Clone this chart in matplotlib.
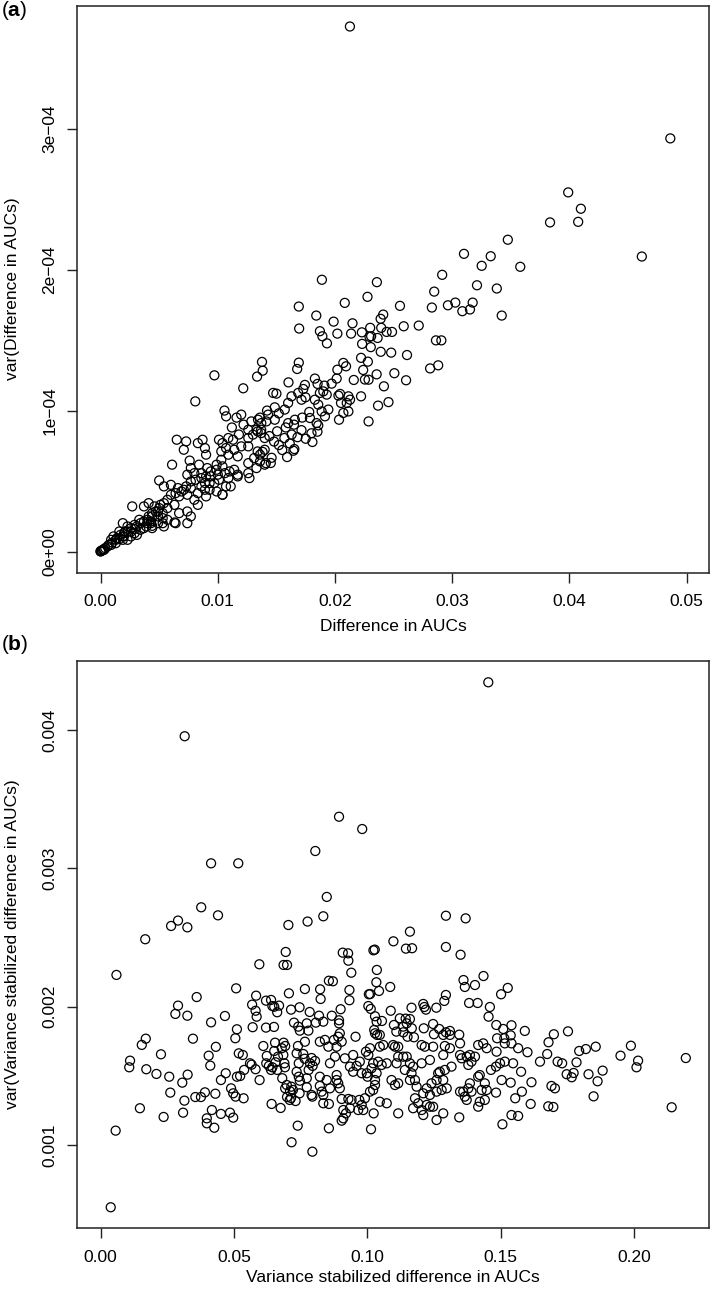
import numpy as np
import matplotlib
matplotlib.use("Agg")
import matplotlib.pyplot as plt

plt.rcParams["font.family"] = ["Liberation Sans", "DejaVu Sans"]
plt.rcParams["mathtext.fontset"] = "custom"
plt.rcParams["mathtext.rm"] = "Liberation Sans"
plt.rcParams["mathtext.bf"] = "Liberation Sans:bold"

# ============================================================
# Data
# ============================================================
# panel (a): (difference in AUCs, variance in units of 1e-4)
auc_pts = [
    (0.02127, 3.725),
    (0.0486, 2.931), (0.03989, 2.548), (0.04097, 2.432), (0.04074, 2.339), (0.03834, 2.335),
    (0.04617, 2.093), (0.03474, 2.212), (0.031, 2.112), (0.03328, 2.095), (0.03251, 2.027),
    (0.0358, 2.02),
    (0.02914, 1.963), (0.03211, 1.889), (0.0338, 1.866), (0.02357, 1.911), (0.02846, 1.844),
    (0.02554, 1.743), (0.02826, 1.731), (0.02963, 1.747), (0.03026, 1.766), (0.03174, 1.766),
    (0.03086, 1.705), (0.03151, 1.717), (0.03422, 1.674), (0.02411, 1.681), (0.02389, 1.651),
    (0.02394, 1.587), (0.0244, 1.558), (0.02486, 1.558), (0.02586, 1.598), (0.02714, 1.603),
    (0.02308, 1.527),
    (0.01888, 1.928), (0.02277, 1.807), (0.02083, 1.764), (0.01691, 1.738), (0.0184, 1.674),
    (0.01988, 1.631), (0.02149, 1.619), (0.01694, 1.582), (0.01871, 1.563), (0.01892, 1.527),
    (0.01931, 1.477), (0.0202, 1.546), (0.02137, 1.546), (0.02229, 1.555), (0.023, 1.587),
    (0.02231, 1.473), (0.02294, 1.523), (0.01377, 1.345), (0.01383, 1.283), (0.01335, 1.241),
    (0.00971, 1.25), (0.01217, 1.158), (0.00808, 1.065), (0.01691, 1.34), (0.01677, 1.295),
    (0.02071, 1.338), (0.02094, 1.314), (0.0202, 1.29), (0.02014, 1.227), (0.0216, 1.217),
    (0.0224, 1.288), (0.0228, 1.347), (0.02222, 1.374), (0.02286, 1.219), (0.01603, 1.2),
    (0.01743, 1.182), (0.01729, 1.153), (0.01828, 1.227), (0.01851, 1.189), (0.01909, 1.177),
    (0.01971, 1.191), (0.02043, 1.118), (0.02114, 1.101), (0.02222, 1.101),
    (0.01472, 1.125), (0.015, 1.12), (0.01486, 1.023), (0.01571, 1.007), (0.016, 1.054),
    (0.01629, 1.101), (0.01686, 1.125), (0.01714, 1.077), (0.01748, 1.094), (0.01828, 1.077),
    (0.01871, 1.125), (0.019, 1.136), (0.01929, 1.113), (0.01857, 1.042), (0.01886, 0.994),
    (0.01914, 0.959), (0.01943, 1.007), (0.02029, 1.106), (0.02051, 1.054), (0.021, 1.054),
    (0.02071, 0.983), (0.02128, 1.077), (0.02114, 0.994), (0.02034, 0.935), (0.02286, 0.923),
    (0.01057, 1.0), (0.01071, 0.959), (0.012, 0.971), (0.01286, 0.923), (0.01343, 0.935),
    (0.01371, 0.911), (0.01414, 0.923), (0.01429, 0.971), (0.01486, 0.935), (0.016, 0.911),
    (0.01657, 0.935), (0.01786, 0.947), (0.01843, 0.911),
    (0.0126, 0.864), (0.0134, 0.852), (0.0137, 0.864), (0.0133, 0.864), (0.0137, 0.84),
    (0.014, 0.805), (0.013, 0.829), (0.0126, 0.805),
    (0.0136, 0.95), (0.0142, 1.0), (0.0152, 0.98), (0.0158, 0.88), (0.0165, 0.9),
    (0.0172, 0.95), (0.0178, 0.99), (0.0163, 0.83), (0.0155, 0.72), (0.0148, 0.78),
    (0.0175, 0.8), (0.0185, 0.85), (0.0118, 0.83), (0.0122, 0.9), (0.0112, 0.88),
    (0.0116, 0.95),
    (0.0065, 0.793), (0.0073, 0.781), (0.0071, 0.722), (0.0083, 0.769), (0.0087, 0.793),
    (0.0089, 0.734), (0.009, 0.687), (0.0101, 0.793), (0.0104, 0.769), (0.0109, 0.805),
    (0.0113, 0.793), (0.0107, 0.734), (0.0103, 0.71), (0.0109, 0.687), (0.0114, 0.722),
    (0.012, 0.746), (0.0126, 0.746), (0.0117, 0.675), (0.0126, 0.627), (0.0131, 0.663),
    (0.0134, 0.71), (0.014, 0.722), (0.0136, 0.639), (0.0141, 0.627), (0.0133, 0.592),
    (0.014, 0.616), (0.0136, 0.687),
    (0.0061, 0.616), (0.0076, 0.645), (0.0077, 0.592), (0.0084, 0.616), (0.0074, 0.545),
    (0.008, 0.556), (0.0086, 0.556), (0.0091, 0.592), (0.0094, 0.533), (0.0089, 0.486),
    (0.0099, 0.616), (0.0103, 0.651), (0.0104, 0.604), (0.01, 0.545), (0.0106, 0.556),
    (0.011, 0.568), (0.0109, 0.521), (0.0114, 0.58), (0.0117, 0.545), (0.0107, 0.462),
    (0.0104, 0.403), (0.0111, 0.462), (0.0117, 0.533), (0.0126, 0.556), (0.0127, 0.521),
    (0.005, 0.504), (0.0054, 0.462), (0.006, 0.473), (0.0066, 0.45), (0.0071, 0.438),
    (0.0077, 0.45), (0.0083, 0.414), (0.0074, 0.403), (0.0067, 0.391), (0.008, 0.367),
    (0.0086, 0.462), (0.0093, 0.438), (0.009, 0.391), (0.0099, 0.426), (0.0104, 0.403),
    (0.0083, 0.331),
    (0.0027, 0.32), (0.0037, 0.32), (0.0041, 0.343), (0.0046, 0.32), (0.0049, 0.284),
    (0.0053, 0.272), (0.0057, 0.308), (0.0063, 0.331), (0.0067, 0.272), (0.0057, 0.225),
    (0.0064, 0.201), (0.0074, 0.284), (0.0074, 0.201), (0.0077, 0.249), (0.0053, 0.201),
    (0.0044, 0.249),
    (0.0019, 0.201), (0.0023, 0.178), (0.0029, 0.189), (0.0034, 0.154), (0.0039, 0.178),
    (0.0043, 0.201), (0.0049, 0.201), (0.004, 0.225), (0.0033, 0.225), (0.0026, 0.142),
    (0.0031, 0.118), (0.0044, 0.166), (0.0054, 0.178), (0.0063, 0.206), (0.0044, 0.182),
    (0.0009, 0.083), (0.0011, 0.107), (0.0014, 0.095), (0.0017, 0.118), (0.002, 0.107),
    (0.0021, 0.142), (0.0009, 0.047), (0.0004, 0.024), (0.0006, 0.036), (0.0003, 0.012),
    (0.0013, 0.059), (0.0023, 0.083), (0.0026, 0.107), (0.0016, 0.142),
    (0.0, 0.0), (0.0001, 0.007), (0.0003, 0.017), (0.0001, 0.005), (0.0002, 0.012), (0.0, 0.002),
    (0.0007, 0.047), (0.001, 0.064), (0.0013, 0.083), (0.0016, 0.088), (0.0019, 0.107),
    (0.002, 0.13), (0.0023, 0.142), (0.0026, 0.166), (0.0029, 0.159), (0.0031, 0.178),
    (0.0034, 0.201), (0.0037, 0.213), (0.004, 0.201), (0.0041, 0.249), (0.0044, 0.272),
    (0.0047, 0.284), (0.005, 0.308), (0.0051, 0.331), (0.0054, 0.343), (0.0057, 0.367),
    (0.006, 0.402), (0.0064, 0.414), (0.0069, 0.426), (0.0073, 0.462), (0.0077, 0.497),
    (0.0081, 0.509), (0.0086, 0.521), (0.009, 0.533), (0.0094, 0.568), (0.0099, 0.58),
    (0.0101, 0.509), (0.0097, 0.485), (0.0093, 0.485), (0.0089, 0.438), (0.0049, 0.249),
    (0.0053, 0.237), (0.0043, 0.213), (0.0037, 0.166), (0.0029, 0.13), (0.0019, 0.083),
    (0.02614, 1.394), (0.02479, 1.411), (0.02861, 1.498), (0.02907, 1.498), (0.02811, 1.299),
    (0.0288, 1.321), (0.02606, 1.215), (0.02506, 1.265), (0.02456, 1.06), (0.02367, 1.035),
    (0.02417, 1.172), (0.02355, 1.257), (0.0239, 1.417), (0.02363, 1.515), (0.02305, 1.45),
    (0.02255, 1.22),
    (0.01807, 0.777), (0.01591, 0.67), (0.01653, 0.727), (0.01452, 0.628), (0.0144, 0.819),
    (0.01506, 0.853), (0.01568, 0.805), (0.01521, 0.755), (0.01382, 0.707), (0.01459, 0.665),
    (0.01614, 0.766), (0.0168, 0.811), (0.01714, 0.861), (0.01799, 0.839), (0.01857, 0.895),
    (0.01645, 0.715),
]

# panel (b): (variance stabilized difference, variance in units of 1e-3)
vs_pts = [
    (0.0315, 3.956), (0.0894, 3.374), (0.1454, 4.346),
    (0.0414, 3.037), (0.0516, 3.037), (0.0377, 2.719), (0.044, 2.661), (0.029, 2.623),
    (0.0264, 2.584), (0.0325, 2.574), (0.0167, 2.488), (0.0059, 2.23), (0.0595, 2.307),
    (0.0508, 2.133), (0.036, 2.07), (0.029, 2.008), (0.028, 1.948), (0.0325, 1.935),
    (0.0414, 1.887), (0.0466, 1.933), (0.0568, 2.015), (0.0583, 2.08), (0.0581, 1.971),
    (0.0511, 1.837), (0.057, 1.852),
    (0.0981, 3.285), (0.0805, 3.126), (0.0848, 2.794), (0.0835, 2.654), (0.0776, 2.616),
    (0.0704, 2.591), (0.0694, 2.396), (0.0686, 2.302), (0.0699, 2.302), (0.0908, 2.391),
    (0.0928, 2.386), (0.0929, 2.333), (0.094, 2.246), (0.1028, 2.413), (0.1023, 2.408),
    (0.1098, 2.473), (0.1145, 2.42), (0.116, 2.543), (0.1036, 2.266), (0.1034, 2.177),
    (0.1044, 2.114), (0.1086, 2.143), (0.0856, 2.188), (0.0871, 2.184), (0.0933, 2.121),
    (0.0933, 2.047), (0.0823, 2.126), (0.0825, 2.056), (0.0766, 2.128), (0.0706, 2.097),
    (0.0585, 1.928), (0.062, 2.044), (0.0639, 2.049), (0.0644, 2.005), (0.0669, 2.008),
    (0.0662, 1.96), (0.0651, 2.0), (0.062, 1.849), (0.065, 1.854), (0.0714, 1.979),
    (0.0746, 1.996), (0.0784, 1.962), (0.0819, 1.935), (0.0867, 1.935), (0.09, 1.982),
    (0.0894, 1.902), (0.0894, 1.88), (0.0725, 1.885), (0.0741, 1.856), (0.0747, 1.827),
    (0.0773, 1.88), (0.0779, 1.827), (0.0807, 1.885), (0.0835, 1.892), (0.0875, 1.76),
    (0.1006, 2.09), (0.1011, 2.092), (0.1004, 2.005), (0.1013, 1.984), (0.1029, 1.931),
    (0.1035, 1.892), (0.1055, 1.897), (0.1026, 1.832), (0.1088, 1.971), (0.11, 1.868),
    (0.1122, 1.916), (0.1144, 1.914), (0.1135, 1.856), (0.1148, 1.88), (0.0766, 1.747),
    (0.1295, 2.432), (0.135, 2.376), (0.1361, 2.193), (0.1366, 2.143), (0.1404, 2.157),
    (0.1436, 2.222), (0.1527, 2.136), (0.1502, 2.09), (0.1166, 1.993), (0.121, 2.02),
    (0.1214, 1.998), (0.122, 1.979), (0.1259, 1.993), (0.1295, 2.085), (0.1289, 2.042),
    (0.1382, 2.027), (0.1414, 2.027), (0.146, 1.998), (0.1455, 1.928), (0.1484, 1.868),
    (0.151, 1.839), (0.1541, 1.866), (0.1538, 1.793), (0.1514, 1.772), (0.1591, 1.825),
    (0.17, 1.801), (0.1753, 1.822), (0.1487, 1.772), (0.1247, 1.875), (0.125, 1.801),
    (0.127, 1.839), (0.1295, 1.815), (0.131, 1.825), (0.1345, 1.798), (0.1212, 1.844),
    (0.1168, 2.423), (0.1167, 1.844), (0.116, 1.911), (0.1109, 1.82), (0.1135, 1.815),
    (0.1151, 1.783), (0.1175, 1.779), (0.0169, 1.769), (0.0346, 1.769), (0.0154, 1.724),
    (0.0505, 1.772), (0.1295, 2.658), (0.1369, 2.639), (0.1291, 1.716),
    (0.1648, 1.603), (0.1675, 1.658), (0.168, 1.743), (0.1714, 1.603), (0.1731, 1.591),
    (0.1785, 1.598), (0.1795, 1.68), (0.182, 1.694), (0.1857, 1.711), (0.1748, 1.512),
    (0.1767, 1.49), (0.1774, 1.521), (0.183, 1.512), (0.1864, 1.461), (0.1883, 1.538),
    (0.1849, 1.352), (0.1691, 1.427), (0.1704, 1.41), (0.1679, 1.28), (0.1698, 1.275),
    (0.195, 1.646), (0.1989, 1.718), (0.2016, 1.61), (0.201, 1.562), (0.2195, 1.629),
    (0.2142, 1.273),
    (0.0226, 1.656), (0.011, 1.61), (0.0107, 1.562), (0.0171, 1.548), (0.0209, 1.514),
    (0.0257, 1.494), (0.0306, 1.451), (0.0326, 1.509), (0.0261, 1.379), (0.0147, 1.266),
    (0.0236, 1.203), (0.0309, 1.234), (0.0314, 1.321), (0.0056, 1.104), (0.00375, 0.55),
    (0.0355, 1.347), (0.0376, 1.347), (0.0391, 1.381), (0.043, 1.371), (0.0405, 1.646),
    (0.0411, 1.574), (0.0432, 1.71), (0.0451, 1.47), (0.0469, 1.519), (0.0489, 1.41),
    (0.0506, 1.35), (0.0497, 1.374), (0.0536, 1.338), (0.0417, 1.253), (0.0451, 1.225),
    (0.0485, 1.234), (0.0497, 1.198), (0.0398, 1.193), (0.0398, 1.157), (0.0426, 1.125),
    (0.0518, 1.663), (0.0533, 1.651), (0.0511, 1.494), (0.0523, 1.499), (0.0538, 1.543),
    (0.056, 1.591), (0.0566, 1.581), (0.0581, 1.548), (0.0596, 1.47), (0.061, 1.716),
    (0.0621, 1.591), (0.0631, 1.572), (0.0623, 1.644), (0.0639, 1.543), (0.0644, 1.562),
    (0.0656, 1.598), (0.0662, 1.543), (0.0651, 1.68), (0.0654, 1.74), (0.0686, 1.74),
    (0.0692, 1.716), (0.0685, 1.651), (0.0689, 1.591), (0.0691, 1.562), (0.0665, 1.639),
    (0.0679, 1.7), (0.0641, 1.297), (0.0675, 1.268),
    (0.0681, 1.483), (0.0698, 1.434), (0.0692, 1.41), (0.071, 1.389), (0.0715, 1.422),
    (0.0721, 1.398), (0.0699, 1.347), (0.0714, 1.34), (0.0709, 1.326), (0.0731, 1.318),
    (0.0746, 1.374), (0.0739, 1.14), (0.0716, 1.02), (0.0794, 0.952),
    (0.0735, 1.663), (0.074, 1.716), (0.076, 1.658), (0.0765, 1.624), (0.0743, 1.591),
    (0.0735, 1.53), (0.0743, 1.494), (0.0747, 1.465), (0.0773, 1.483), (0.078, 1.543),
    (0.0785, 1.591), (0.0795, 1.572), (0.0804, 1.608), (0.0791, 1.629),
    (0.0773, 1.418), (0.0791, 1.362), (0.0794, 1.35), (0.0822, 1.427), (0.0829, 1.386),
    (0.0835, 1.362), (0.0848, 1.47), (0.086, 1.41), (0.0822, 1.494), (0.0835, 1.302),
    (0.0856, 1.297), (0.0856, 1.121),
    (0.0822, 1.747), (0.0841, 1.76), (0.0854, 1.711), (0.086, 1.591), (0.0879, 1.639),
    (0.0885, 1.711), (0.0891, 1.783), (0.0897, 1.808), (0.0904, 1.747), (0.0885, 1.47),
    (0.0891, 1.446), (0.0897, 1.41), (0.0885, 1.506), (0.0916, 1.627), (0.0947, 1.651),
    (0.0956, 1.783), (0.0935, 1.567), (0.0947, 1.53), (0.096, 1.572), (0.0972, 1.603),
    (0.0979, 1.519),
    (0.0904, 1.333), (0.0929, 1.333), (0.0941, 1.326), (0.091, 1.253), (0.092, 1.229),
    (0.091, 1.193), (0.0904, 1.176), (0.0935, 1.266), (0.0966, 1.253), (0.0979, 1.29),
    (0.0985, 1.253), (0.097, 1.326), (0.0991, 1.338), (0.1014, 1.114), (0.1024, 1.229),
    (0.0998, 1.519), (0.1001, 1.494), (0.101, 1.386), (0.1022, 1.398), (0.1029, 1.434),
    (0.1029, 1.47), (0.1035, 1.519), (0.1016, 1.555), (0.1022, 1.591), (0.1041, 1.603),
    (0.1054, 1.579), (0.1047, 1.711), (0.101, 1.7), (0.0995, 1.675), (0.1004, 1.651),
    (0.1029, 1.808), (0.1037, 1.796), (0.1047, 1.796), (0.106, 1.723), (0.1073, 1.591),
    (0.1073, 1.302), (0.1047, 1.313),
    (0.1091, 1.47), (0.1104, 1.434), (0.1116, 1.446), (0.1097, 1.723), (0.1104, 1.711),
    (0.1116, 1.711), (0.111, 1.591), (0.1135, 1.639), (0.1148, 1.639), (0.1141, 1.543),
    (0.116, 1.591), (0.1172, 1.567), (0.1166, 1.519), (0.116, 1.47), (0.1179, 1.47),
    (0.1185, 1.422), (0.1179, 1.338), (0.1191, 1.302), (0.1172, 1.266), (0.1204, 1.253),
    (0.121, 1.217), (0.1223, 1.29), (0.121, 1.374), (0.1235, 1.362), (0.1223, 1.41),
    (0.1241, 1.446), (0.126, 1.47), (0.1266, 1.519), (0.1272, 1.53), (0.1291, 1.543),
    (0.1285, 1.47), (0.126, 1.386), (0.1279, 1.398), (0.1298, 1.41), (0.1285, 1.229),
    (0.126, 1.181), (0.1247, 1.277), (0.1235, 1.277), (0.1204, 1.723), (0.1216, 1.711),
    (0.1247, 1.711), (0.1285, 1.796), (0.131, 1.796), (0.1285, 1.651), (0.131, 1.7),
    (0.1316, 1.567), (0.1204, 1.591), (0.1235, 1.615), (0.1116, 1.229), (0.1116, 1.639),
    (0.1345, 1.2),
    (0.1348, 1.651), (0.1354, 1.627), (0.1373, 1.639), (0.1385, 1.651), (0.1391, 1.603),
    (0.1379, 1.579), (0.1404, 1.639), (0.1416, 1.723), (0.1435, 1.735), (0.1448, 1.7),
    (0.1348, 1.735),
    (0.1416, 1.494), (0.1422, 1.506), (0.1385, 1.446), (0.1379, 1.41), (0.1348, 1.386),
    (0.1366, 1.35), (0.136, 1.386), (0.1391, 1.386), (0.1429, 1.398), (0.1448, 1.398),
    (0.1441, 1.446), (0.1422, 1.313), (0.1441, 1.326), (0.1416, 1.277), (0.1373, 1.326),
    (0.1464, 1.543), (0.1483, 1.567), (0.1498, 1.591), (0.1516, 1.603), (0.1504, 1.47),
    (0.1538, 1.451), (0.1547, 1.591), (0.1483, 1.379), (0.1541, 1.217), (0.1566, 1.21),
    (0.1507, 1.15), (0.1555, 1.338), (0.158, 1.386), (0.1577, 1.53), (0.1616, 1.454),
    (0.1613, 1.297), (0.1485, 1.675), (0.1516, 1.735), (0.1541, 1.735), (0.1566, 1.7),
    (0.1601, 1.671),
]

a_xticks = [0.00, 0.01, 0.02, 0.03, 0.04, 0.05]
a_yticks = [0.0, 1e-4, 2e-4, 3e-4]
a_ytick_labels = ["0e+00", "1e\u221204", "2e\u221204", "3e\u221204"]
b_xticks = [0.00, 0.05, 0.10, 0.15, 0.20]
b_yticks = [0.001, 0.002, 0.003, 0.004]

# ============================================================
# Plotting
# ============================================================
W, H = 711, 1291
fig = plt.figure(figsize=(W / 100, H / 100), dpi=100)


def px_axes(left, top, right, bottom):
    return fig.add_axes([left / W, 1 - bottom / H, (right - left) / W, (bottom - top) / H])


def style_axes(ax):
    for sp in ax.spines.values():
        sp.set_linewidth(1.1)
        sp.set_color("#222222")
    ax.tick_params(direction="out", length=7, width=1.0, color="#222222", labelsize=12.5)
    ax.tick_params(axis="x", pad=8.5)
    ax.tick_params(axis="y", pad=7)
    for lab in ax.get_yticklabels():
        lab.set_rotation(90)
        lab.set_va("center")


a = np.array(auc_pts)
b = np.array(vs_pts)

# both panels share the same plot region, as in an R mfrow layout
LEFT, RIGHT = 77, 709

ax1 = px_axes(LEFT, 5.5, RIGHT, 572.5)
ax1.scatter(a[:, 0], a[:, 1] * 1e-4, s=42, facecolors="none", edgecolors="black", linewidths=0.9)
ax1.set_xlim(-0.00201, 0.0519)
ax1.set_ylim(-0.149e-4, 3.874e-4)
ax1.set_xticks(a_xticks)
ax1.set_xticklabels([f"{v:.2f}" for v in a_xticks])
ax1.set_yticks(a_yticks)
ax1.set_yticklabels(a_ytick_labels)
style_axes(ax1)
ax1.set_xlabel("Difference in AUCs", fontsize=12.5)
ax1.set_ylabel("var(Difference in AUCs)", fontsize=12.5)
ax1.xaxis.set_label_coords(0.5, -46 / 567)
ax1.yaxis.set_label_coords(-57 / 632, 0.5)

ax2 = px_axes(LEFT, 661, RIGHT, 1228)
ax2.scatter(b[:, 0], b[:, 1] * 1e-3, s=42, facecolors="none", edgecolors="black", linewidths=0.9)
ax2.set_xlim(-0.0089, 0.2282)
ax2.set_ylim(0.0004, 0.0045)
ax2.set_xticks(b_xticks)
ax2.set_xticklabels([f"{v:.2f}" for v in b_xticks])
ax2.set_yticks(b_yticks)
ax2.set_yticklabels([f"{v:.3f}" for v in b_yticks])
style_axes(ax2)
ax2.set_xlabel("Variance stabilized difference in AUCs", fontsize=12.5)
ax2.set_ylabel("var(Variance stabilized difference in AUCs)", fontsize=12.5)
ax2.xaxis.set_label_coords(0.5, -42 / 567)
ax2.yaxis.set_label_coords(-57 / 632, 0.5)

fig.text(1 / W, 1 - 11 / H, r"($\mathbf{a}$)", fontsize=15, va="center", ha="left")
fig.text(1 / W, 1 - 645 / H, r"($\mathbf{b}$)", fontsize=15, va="center", ha="left")

fig.savefig("out.png", dpi=100)
